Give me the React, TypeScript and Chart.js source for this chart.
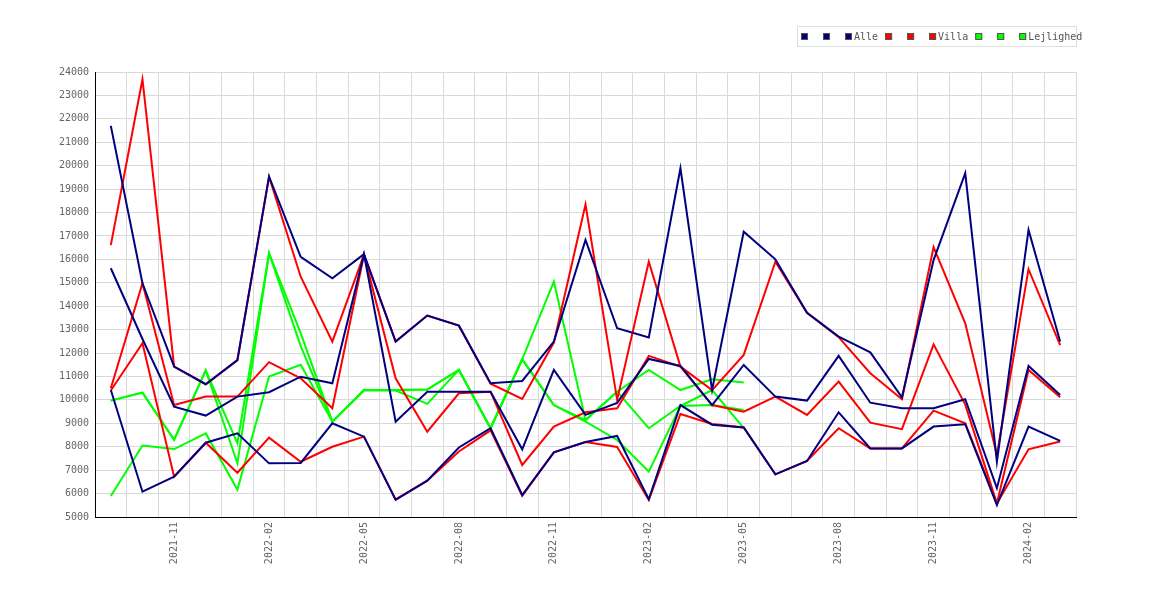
import React, { useEffect, useRef } from "react";
import Chart from "chart.js/auto";

const months = [
  "2021-09", "2021-10", "2021-11", "2021-12",
  "2022-01", "2022-02", "2022-03", "2022-04", "2022-05", "2022-06",
  "2022-07", "2022-08", "2022-09", "2022-10", "2022-11", "2022-12",
  "2023-01", "2023-02", "2023-03", "2023-04", "2023-05", "2023-06",
  "2023-07", "2023-08", "2023-09", "2023-10", "2023-11", "2023-12",
  "2024-01", "2024-02", "2024-03",
];

// Alle (navy)
const alleHigh = [21700, 14980, 11420, 10670, 11700, 19530, 16110, 15190, 16220, 12490, 13600, 13170, 10710, 10810, 12490, 16830, 13060, 12670, 19890, 10420, 17180, 16000, 13720, 12700, 12030, 10110, 15970, 19680, 7360, 17260, 12490];
const alleMid = [15620, 12600, 9710, 9330, 10140, 10330, 10990, 10710, 16220, 9070, 10350, 10350, 10350, 7890, 11280, 9360, 9870, 11750, 11450, 9780, 11490, 10140, 9970, 11880, 9880, 9640, 9640, 10030, 6230, 11450, 10210];
const alleLow = [10420, 6080, 6720, 8170, 8570, 7290, 7310, 9000, 8430, 5730, 6550, 7970, 8790, 5940, 7760, 8200, 8460, 5760, 9780, 8940, 8820, 6820, 7390, 9470, 7930, 7930, 8860, 8960, 5510, 8860, 8250];

// Villa (red)
const villaHigh = [16610, 23690, 11420, 10670, 11700, 19530, 15260, 12490, 16200, 12490, 13600, 13170, 10690, 10040, 12450, 18340, 10000, 15900, 11420, 10420, 11920, 15900, 13720, 12680, 11140, 10030, 16520, 13270, 7650, 15580, 12340];
const villaMid = [10500, 14980, 9780, 10140, 10140, 11610, 10920, 9640, 16200, 10920, 8640, 10280, 10350, 7220, 8860, 9470, 9640, 11880, 11420, 9780, 9500, 10140, 9360, 10780, 9030, 8750, 12370, 9800, 5580, 11280, 10110];
const villaLow = [10400, 12420, 6720, 8170, 6890, 8390, 7360, 8000, 8430, 5750, 6550, 7800, 8700, 5900, 7760, 8200, 7990, 5730, 9400, 8970, 8820, 6820, 7390, 8790, 7930, 7930, 9540, 9000, 5580, 7890, 8220];

// Lejlighed (green), no data after 2023-05
const lejHigh = [9970, 10310, 8300, 11260, 8150, 16260, 12850, 9070, 10420, 10420, 10440, 11280, 8790, 11730, 15050, 9140, 10350, 11280, 10420, 10880, 10740, null, null, null, null, null, null, null, null, null, null];
const lejMid = [9970, 10310, 8300, 11260, 7290, 16260, 12300, 9070, 10420, 10420, 10440, 11280, 8790, 11730, 9780, 9140, 10350, 8790, 9740, 10420, 8790, null, null, null, null, null, null, null, null, null, null];
const lejLow = [5900, 8050, 7900, 8570, 6170, 11000, 11500, 9070, 10400, 10400, 9830, 11280, 8790, 11730, 9780, 9070, 8290, 6940, 9740, 9780, 9570, null, null, null, null, null, null, null, null, null, null];

const NAVY = "#000080";
const RED = "#ff0000";
const GREEN = "#00ff00";
const MONO = '"DejaVu Sans Mono", monospace';
const GRID = "#d9d9d9";
const TEXT = "#666666";

const legendGroups = [
  { label: "Alle", color: NAVY },
  { label: "Villa", color: RED },
  { label: "Lejlighed", color: GREEN },
];

// legend drawn by hand: three swatches per group, label after the third
const boxLegend = {
  id: "boxLegend",
  afterDraw(chart: any) {
    const ctx = chart.ctx;
    ctx.save();
    ctx.strokeStyle = "#dddddd";
    ctx.lineWidth = 1;
    ctx.strokeRect(797.5, 26.5, 279, 20);
    ctx.font = `10px ${MONO}`;
    ctx.textBaseline = "middle";
    let x = 801;
    legendGroups.forEach((g) => {
      for (let k = 0; k < 3; k++) {
        ctx.fillStyle = g.color;
        ctx.fillRect(x, 33, 7, 7);
        ctx.strokeStyle = "#555555";
        ctx.strokeRect(x + 0.5, 33.5, 6, 6);
        x += k < 2 ? 22 : 7;
      }
      x += 2;
      ctx.fillStyle = "#555555";
      ctx.fillText(g.label, x, 37);
      x += ctx.measureText(g.label).width + 7;
    });
    ctx.restore();
  },
};

const line = (data: (number | null)[], color: string, label: string) => ({
  label,
  data,
  borderColor: color,
  backgroundColor: color,
  borderWidth: 2,
  pointRadius: 0,
  tension: 0,
  fill: false,
});

const App: React.FC = () => {
  const chartRef = useRef<HTMLCanvasElement>(null);

  useEffect(() => {
    const ctx = chartRef.current?.getContext("2d");
    if (!ctx) return;

    const chart = new Chart(ctx, {
      type: "line",
      data: {
        labels: months,
        datasets: [
          line(alleHigh, NAVY, ""),
          line(alleMid, NAVY, ""),
          line(alleLow, NAVY, "Alle"),
          line(villaHigh, RED, ""),
          line(villaMid, RED, ""),
          line(villaLow, RED, "Villa"),
          line(lejHigh, GREEN, ""),
          line(lejMid, GREEN, ""),
          line(lejLow, GREEN, "Lejlighed"),
        ],
      },
      options: {
        responsive: false,
        animation: false,
        layout: { padding: { top: 72, right: 94, left: 0, bottom: 0 } },
        plugins: {
          legend: { display: false },
          tooltip: { enabled: false },
        },
        scales: {
          x: {
            offset: true,
            grid: { offset: true, color: GRID, drawTicks: false },
            border: { color: "#000000", width: 1 },
            ticks: {
              autoSkip: false,
              minRotation: 90,
              maxRotation: 90,
              padding: 5,
              color: TEXT,
              font: { family: MONO, size: 10 },
              callback: (_v: any, i: number) => (i % 3 === 2 ? months[i] : ""),
            },
            afterFit: (s: any) => {
              s.height = 83;
            },
          },
          y: {
            min: 5000,
            max: 24000,
            grid: { color: GRID, drawTicks: false },
            border: { color: "#000000", width: 1 },
            ticks: {
              stepSize: 1000,
              padding: 6,
              color: TEXT,
              font: { family: MONO, size: 10 },
              callback: (v: any) => String(v),
            },
            afterFit: (s: any) => {
              s.width = 95;
            },
          },
        },
      },
      plugins: [boxLegend],
    });

    return () => {
      chart.destroy();
    };
  }, []);

  return (
    <div style={{ position: "absolute", left: 0, top: 0, width: 1170, height: 600 }}>
      <canvas ref={chartRef} width={1170} height={600} />
    </div>
  );
};

export default App;
